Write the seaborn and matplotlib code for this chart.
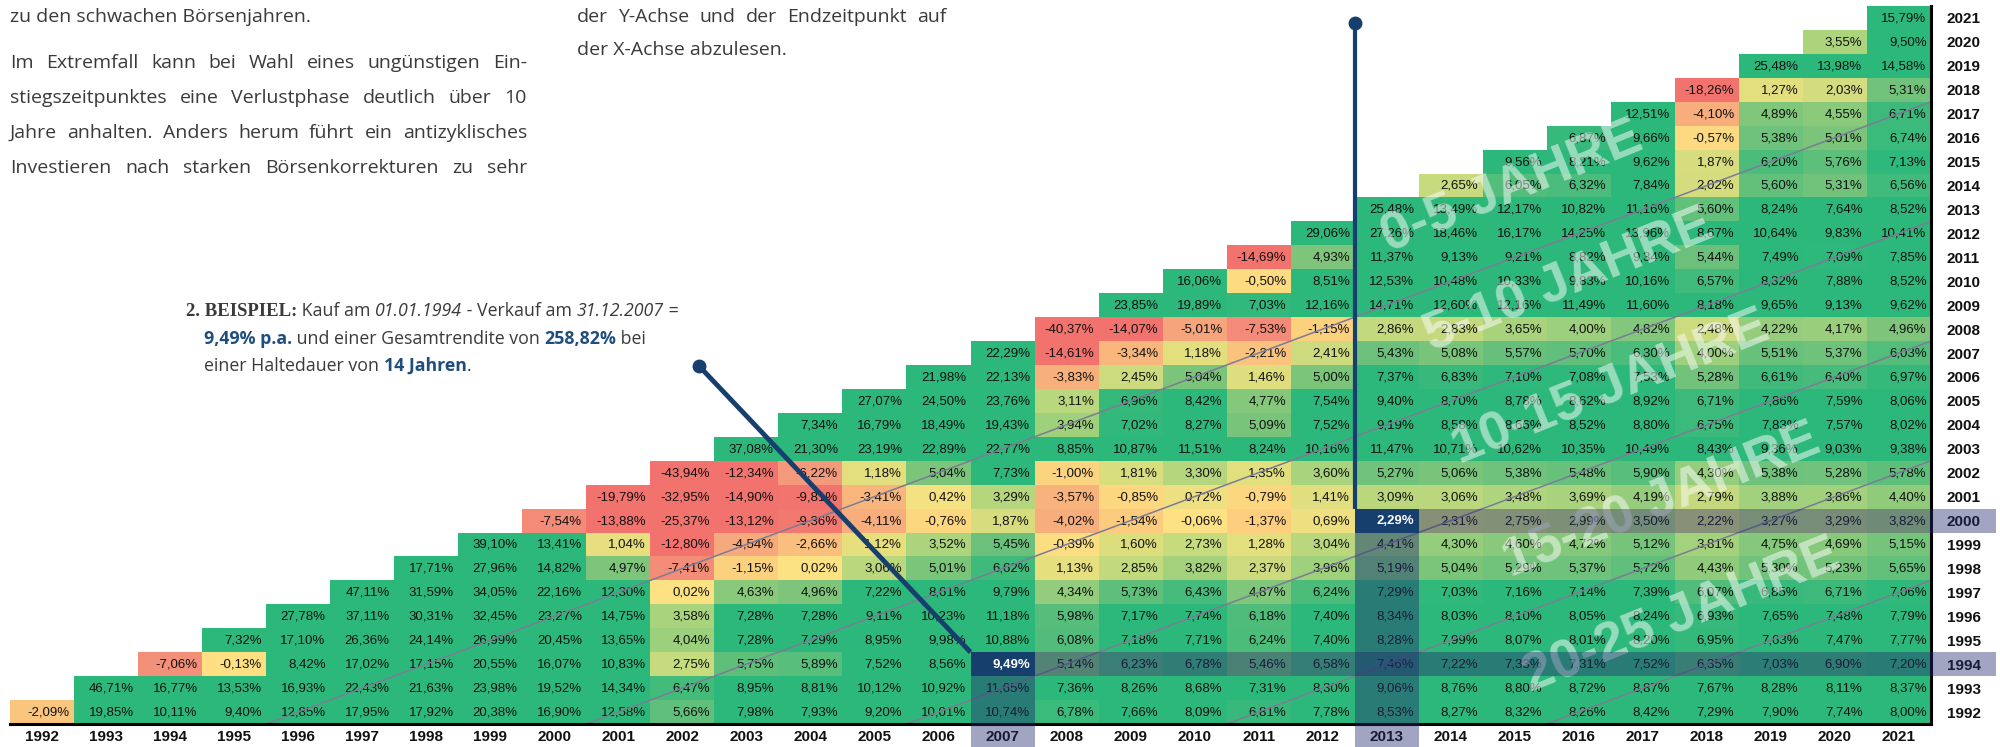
import matplotlib
matplotlib.use("Agg")
import matplotlib.pyplot as plt
from matplotlib.colors import LinearSegmentedColormap
from matplotlib.patches import Rectangle
from matplotlib.transforms import IdentityTransform
import numpy as np
import pandas as pd
import seaborn as sns

# ── Daten: Rendite p.a. je Kaufjahr (Zeile), Verkaufsjahr = Kaufjahr ... 2021 ──
YEARS = list(range(1992, 2022))

r1992 = [-2.09, 19.85, 10.11, 9.40, 12.85, 17.95, 17.92, 20.38, 16.90, 12.58,
         5.66, 7.98, 7.93, 9.20, 10.01, 10.74, 6.78, 7.66, 8.09, 6.81,
         7.78, 8.53, 8.27, 8.32, 8.26, 8.42, 7.29, 7.90, 7.74, 8.00]
r1993 = [46.71, 16.77, 13.53, 16.93, 22.43, 21.63, 23.98, 19.52, 14.34, 6.47,
         8.95, 8.81, 10.12, 10.92, 11.65, 7.36, 8.26, 8.68, 7.31, 8.30,
         9.06, 8.76, 8.80, 8.72, 8.87, 7.67, 8.28, 8.11, 8.37]
r1994 = [-7.06, -0.13, 8.42, 17.02, 17.15, 20.55, 16.07, 10.83, 2.75, 5.75,
         5.89, 7.52, 8.56, 9.49, 5.14, 6.23, 6.78, 5.46, 6.58, 7.46,
         7.22, 7.33, 7.31, 7.52, 6.35, 7.03, 6.90, 7.20]
r1995 = [7.32, 17.10, 26.36, 24.14, 26.99, 20.45, 13.65, 4.04, 7.28, 7.29,
         8.95, 9.98, 10.88, 6.08, 7.18, 7.71, 6.24, 7.40, 8.28, 7.99,
         8.07, 8.01, 8.20, 6.95, 7.63, 7.47, 7.77]
r1996 = [27.78, 37.11, 30.31, 32.45, 23.27, 14.75, 3.58, 7.28, 7.28, 9.11,
         10.23, 11.18, 5.98, 7.17, 7.74, 6.18, 7.40, 8.34, 8.03, 8.10,
         8.05, 8.24, 6.93, 7.65, 7.48, 7.79]
r1997 = [47.11, 31.59, 34.05, 22.16, 12.30, 0.02, 4.63, 4.96, 7.22, 8.61,
         9.79, 4.34, 5.73, 6.43, 4.87, 6.24, 7.29, 7.03, 7.16, 7.14,
         7.39, 6.07, 6.85, 6.71, 7.06]
r1998 = [17.71, 27.96, 14.82, 4.97, -7.41, -1.15, 0.02, 3.06, 5.01, 6.62,
         1.13, 2.85, 3.82, 2.37, 3.96, 5.19, 5.04, 5.29, 5.37, 5.72,
         4.43, 5.30, 5.23, 5.65]
r1999 = [39.10, 13.41, 1.04, -12.80, -4.54, -2.66, 1.12, 3.52, 5.45, -0.39,
         1.60, 2.73, 1.28, 3.04, 4.41, 4.30, 4.60, 4.72, 5.12, 3.81,
         4.75, 4.69, 5.15]
r2000 = [-7.54, -13.88, -25.37, -13.12, -9.36, -4.11, -0.76, 1.87, -4.02, -1.54,
         -0.06, -1.37, 0.69, 2.29, 2.31, 2.75, 2.99, 3.50, 2.22, 3.27,
         3.29, 3.82]
r2001 = [-19.79, -32.95, -14.90, -9.81, -3.41, 0.42, 3.29, -3.57, -0.85, 0.72,
         -0.79, 1.41, 3.09, 3.06, 3.48, 3.69, 4.19, 2.79, 3.88, 3.86, 4.40]
r2002 = [-43.94, -12.34, -6.22, 1.18, 5.04, 7.73, -1.00, 1.81, 3.30, 1.35,
         3.60, 5.27, 5.06, 5.38, 5.48, 5.90, 4.30, 5.38, 5.28, 5.78]
r2003 = [37.08, 21.30, 23.19, 22.89, 22.77, 8.85, 10.87, 11.51, 8.24, 10.16,
         11.47, 10.71, 10.62, 10.35, 10.49, 8.43, 9.36, 9.03, 9.38]
r2004 = [7.34, 16.79, 18.49, 19.43, 3.94, 7.02, 8.27, 5.09, 7.52, 9.19,
         8.58, 8.66, 8.52, 8.80, 6.75, 7.83, 7.57, 8.02]
r2005 = [27.07, 24.50, 23.76, 3.11, 6.96, 8.42, 4.77, 7.54, 9.40, 8.70,
         8.78, 8.62, 8.92, 6.71, 7.86, 7.59, 8.06]
r2006 = [21.98, 22.13, -3.83, 2.45, 5.04, 1.46, 5.00, 7.37, 6.83, 7.10,
         7.08, 7.53, 5.28, 6.61, 6.40, 6.97]
r2007 = [22.29, -14.61, -3.34, 1.18, -2.21, 2.41, 5.43, 5.08, 5.57, 5.70,
         6.30, 4.00, 5.51, 5.37, 6.03]
r2008 = [-40.37, -14.07, -5.01, -7.53, -1.15, 2.86, 2.83, 3.65, 4.00, 4.82,
         2.48, 4.22, 4.17, 4.96]
r2009 = [23.85, 19.89, 7.03, 12.16, 14.71, 12.60, 12.16, 11.49, 11.60, 8.18,
         9.65, 9.13, 9.62]
r2010 = [16.06, -0.50, 8.51, 12.53, 10.48, 10.33, 9.83, 10.16, 6.57, 8.32,
         7.88, 8.52]
r2011 = [-14.69, 4.93, 11.37, 9.13, 9.21, 8.82, 9.34, 5.44, 7.49, 7.09, 7.85]
r2012 = [29.06, 27.26, 18.46, 16.17, 14.25, 13.96, 8.67, 10.64, 9.83, 10.41]
r2013 = [25.48, 13.49, 12.17, 10.82, 11.16, 5.60, 8.24, 7.64, 8.52]
r2014 = [2.65, 6.05, 6.32, 7.84, 2.02, 5.60, 5.31, 6.56]
r2015 = [9.56, 8.21, 9.62, 1.87, 6.20, 5.76, 7.13]
r2016 = [6.87, 9.66, -0.57, 5.38, 5.01, 6.74]
r2017 = [12.51, -4.10, 4.89, 4.55, 6.71]
r2018 = [-18.26, 1.27, 2.03, 5.31]
r2019 = [25.48, 13.98, 14.58]
r2020 = [3.55, 9.50]
r2021 = [15.79]

ROWS = [r1992, r1993, r1994, r1995, r1996, r1997, r1998, r1999, r2000, r2001,
        r2002, r2003, r2004, r2005, r2006, r2007, r2008, r2009, r2010, r2011,
        r2012, r2013, r2014, r2015, r2016, r2017, r2018, r2019, r2020, r2021]

# Beispiele: (Kaufjahr, Verkaufsjahr)
HIGHLIGHTS = [(1994, 2007), (2000, 2013)]
BANDS = ["0-5 JAHRE", "5-10 JAHRE", "10-15 JAHRE", "15-20 JAHRE", "20-25 JAHRE"]

# ── Matrix aufbauen ──────────────────────────
mat = np.full((len(YEARS), len(YEARS)), np.nan)
for b, vals in zip(YEARS, ROWS):
    for k, v in enumerate(vals):
        mat[b - 1992, b - 1992 + k] = v
df = pd.DataFrame(mat, index=YEARS, columns=YEARS).iloc[::-1]   # 2021 oben

# Excel-artige Farbskala rot - gelb - grün
VMIN, VMAX = -10.0, 7.2
nodes = [(-10, "#f2736d"), (-7, "#f3917a"), (-4.1, "#f7ad7c"), (-1.2, "#fcd07e"),
         (0, "#fee283"), (1.2, "#e4df7e"), (2.75, "#c6da7e"), (4.0, "#9ed07c"),
         (5.0, "#7dc57b"), (6.0, "#55bd7b"), (7.2, "#2db87b")]
cmap = LinearSegmentedColormap.from_list(
    "xl", [((v - VMIN) / (VMAX - VMIN), c) for v, c in nodes])

NAVY = "#173f6e"
TXT = "#3a3a3a"
W, H = 2000, 747
GX0, GX1, GY0, GY1 = 10, 1931, 6, 724

fig = plt.figure(figsize=(W / 100, H / 100), dpi=100)
fig.patch.set_facecolor("white")
ax = fig.add_axes([GX0 / W, 1 - GY1 / H, (GX1 - GX0) / W, (GY1 - GY0) / H])

sns.heatmap(df, cmap=cmap, vmin=VMIN, vmax=VMAX, cbar=False, ax=ax,
            xticklabels=True, yticklabels=True)

n = len(YEARS)
# Zellbeschriftungen
for i, b in enumerate(df.index):
    for j, s in enumerate(df.columns):
        v = df.iloc[i, j]
        if np.isnan(v):
            continue
        lab = f"{v:.2f}".replace(".", ",") + "%"
        if (b, s) in HIGHLIGHTS:
            ax.add_patch(Rectangle((j, i), 1, 1, fc=NAVY, ec="none", zorder=7))
            ax.text(j + 0.93, i + 0.52, lab, ha="right", va="center", fontsize=9.5,
                    family="Liberation Sans", weight="bold", color="white", zorder=8)
        else:
            ax.text(j + 0.93, i + 0.52, lab, ha="right", va="center", fontsize=9.5,
                    family="Liberation Sans", color="#111111", zorder=3)

# Achsen-Beschriftung
ax.tick_params(axis="x", length=0, pad=4, labelsize=11, labelrotation=0)
ax.yaxis.tick_right()
ax.tick_params(axis="y", length=0, pad=11.5, labelsize=11, labelrotation=0)
for t in ax.get_xticklabels() + ax.get_yticklabels():
    t.set_fontweight("bold")
    t.set_fontfamily("Liberation Sans")
    t.set_color("#111111")

# Rahmenlinien
ax.plot([0, n], [n, n], color="black", lw=2.2, clip_on=False, zorder=6)
ax.plot([n, n], [0, n], color="black", lw=2.2, clip_on=False, zorder=6)

# Diagonalen der Haltedauer-Bänder
for s in [4, 9, 14, 19, 24]:
    ax.plot([s, n], [n, s], color="#7c7c96", lw=1.1, zorder=4)

# Wasserzeichen
band_pos = [(23.45, 7.6), (24.35, 11.5), (25.0, 16.0), (25.8, 20.7), (26.1, 25.5)]
for txt, (x, y) in zip(BANDS, band_pos):
    ax.text(x, y, txt, rotation=22, rotation_mode="anchor", ha="center", va="center",
            fontsize=39, weight="bold", family="Liberation Sans", color="white",
            alpha=0.5, zorder=5)

# Markierungen der Beispiele (halbtransparent)
lab_h = (H - GY1) / ((GY1 - GY0) / n)
lab_w = (W - GX1 - 4) / ((GX1 - GX0) / n)
for b, s in HIGHLIGHTS:
    i = 2021 - b
    j = s - 1992
    boxes = [(j + 1, i, n - j - 1, 1), (j, i + 1, 1, n - i - 1),
             (j, n, 1, lab_h), (n, i, lab_w, 1)]
    for x, y, w, h in boxes:
        ax.add_patch(Rectangle((x, y), w, h, fc="#232a6f", ec="none", alpha=0.42,
                               zorder=6, clip_on=False))

# Verbindungslinien zu den Texten
ax.plot([21, 21], [0.71, 21], color=NAVY, lw=3, zorder=7, solid_capstyle="butt")
ax.plot([21], [0.71], "o", color=NAVY, ms=9, zorder=7)
ax.plot([10.76, 15], [15.04, 27], color=NAVY, lw=3.5, zorder=7, solid_capstyle="butt")
ax.plot([10.76], [15.04], "o", color=NAVY, ms=9, zorder=7)

ax.set_xlabel("")
ax.set_ylabel("")

# ── Fließtext ────────────────────────────────
renderer = fig.canvas.get_renderer()
ID = IdentityTransform()


def adv(s, **kw):
    """Vorschub-Breite eines Strings in px (inkl. Leerzeichen)."""
    a = fig.text(0, 0, s + "|", transform=ID, **kw)
    b = fig.text(0, 0, "|", transform=ID, **kw)
    w = a.get_window_extent(renderer).width - b.get_window_extent(renderer).width
    a.remove()
    b.remove()
    return w


def line(x, y, segs):
    for s, kw in segs:
        fig.text(x, H - y, s, transform=ID, va="baseline", **kw)
        x += adv(s, **kw)


def justified(x0, x1, y, text, **kw):
    words = text.split()
    widths = [adv(w, **kw) for w in words]
    gap = (x1 - x0 - sum(widths)) / (len(words) - 1)
    x = x0
    for w, wd in zip(words, widths):
        fig.text(x, H - y, w, transform=ID, va="baseline", **kw)
        x += wd + gap


reg = dict(family="Open Sans", fontsize=14, color=TXT)
line(10, 22, [("zu den schwachen Börsenjahren.", reg)])
para = ["Im Extremfall kann bei Wahl eines ungünstigen Ein-",
        "stiegszeitpunktes eine Verlustphase deutlich über 10",
        "Jahre anhalten. Anders herum führt ein antizyklisches",
        "Investieren nach starken Börsenkorrekturen zu sehr"]
for k, p in enumerate(para):
    justified(10, 527, 68 + k * 35, p, **reg)

justified(577, 946, 22, "der Y-Achse und der Endzeitpunkt auf", **reg)
line(577, 55, [("der X-Achse abzulesen.", reg)])

a_reg = dict(family="Open Sans", fontsize=12.8, color=TXT)
a_it = dict(family="Open Sans", fontsize=12.8, color=TXT, style="italic")
a_bold = dict(family="Open Sans", fontsize=12.8, color="#1f4e7e", weight="bold")
a_serif = dict(family="Liberation Serif", fontsize=13.5, color=TXT, weight="bold")
line(186, 316, [("2. BEISPIEL:", a_serif), (" Kauf am ", a_reg), ("01.01.1994", a_it),
                (" - Verkauf am ", a_reg), ("31.12.2007", a_it), (" =", a_reg)])
line(204, 344, [("9,49% p.a.", a_bold), (" und einer Gesamtrendite von ", a_reg),
                ("258,82%", a_bold), (" bei", a_reg)])
line(204, 371, [("einer Haltedauer von ", a_reg), ("14 Jahren", a_bold), (".", a_reg)])

fig.savefig("out.png", dpi=100)
